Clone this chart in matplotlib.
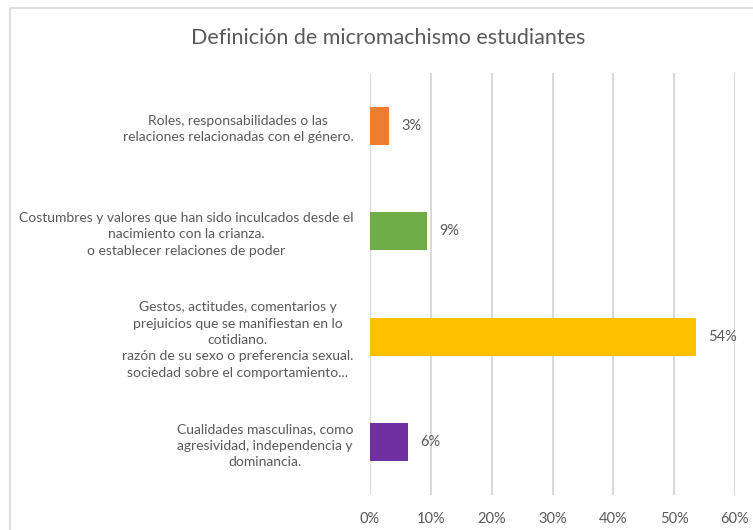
import matplotlib
matplotlib.use("Agg")
import matplotlib.pyplot as plt
from matplotlib.patches import Rectangle
from matplotlib.ticker import FuncFormatter

# data
categories = [
    "Roles, responsabilidades o las\nrelaciones relacionadas con el género.",
    "Costumbres y valores que han sido inculcados desde el\nnacimiento con la crianza.\no establecer relaciones de poder",
    "Gestos, actitudes, comentarios y\nprejuicios que se manifiestan en lo\ncotidiano.\nrazón de su sexo o preferencia sexual.\nsociedad sobre el comportamiento...",
    "Cualidades masculinas, como\nagresividad, independencia y\ndominancia.",
]
values = [0.031, 0.094, 0.536, 0.063]
value_labels = ["3%", "9%", "54%", "6%"]
bar_colors = ["#ED7D31", "#70AD47", "#FFC000", "#7030A0"]
x_ticks = [0, 0.1, 0.2, 0.3, 0.4, 0.5, 0.6]
title = "Definición de micromachismo estudiantes"

plt.rcParams['font.family'] = ['Lato', 'DejaVu Sans']
text_color = "#595959"
grid_color = "#d9d9d9"

W, H = 753, 530
fig = plt.figure(figsize=(W / 100, H / 100), dpi=100)

# chart border (cropped at right and bottom in the reference)
fig.patches.append(Rectangle((10 / W, -0.1), 2, 1 - 8 / H + 0.1,
                             transform=fig.transFigure, fill=False,
                             edgecolor=grid_color, lw=1.2))

ax = fig.add_axes([370 / W, 1 - 495 / H, 365 / W, 422 / H])
ypos = list(range(len(categories)))
ax.barh(ypos, values, height=0.36, color=bar_colors, zorder=3)
ax.set_ylim(len(categories) - 0.5, -0.5)
ax.set_xlim(0, 0.6)

for y, v, lab in zip(ypos, values, value_labels):
    ax.text(v + 0.02, y, lab, va='center', ha='left', fontsize=10.5,
            color=text_color)

ax.set_xticks(x_ticks)
ax.xaxis.set_major_formatter(FuncFormatter(lambda x, p: f"{x*100:.0f}%"))
ax.tick_params(axis='x', length=0, pad=12, labelsize=10.5, colors=text_color)
ax.set_yticks(ypos)
ax.set_yticklabels(categories, multialignment='center', fontsize=10,
                   color=text_color, linespacing=1.45)
ax.tick_params(axis='y', length=0, pad=12)
ax.grid(axis='x', color=grid_color, lw=1.5, zorder=0)
for s in ax.spines.values():
    s.set_visible(False)

fig.text(388 / W, 1 - 38 / H, title, ha='center', va='center',
         fontsize=15.5, color=text_color)

fig.savefig("out.png", dpi=100)
